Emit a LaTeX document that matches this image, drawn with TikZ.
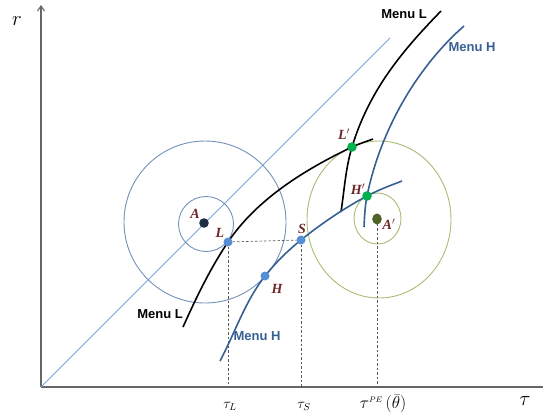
\documentclass[tikz,border=0pt]{standalone}
\usepackage{fontspec}
\setmainfont{Liberation Serif}
\newfontfamily\menufont{Liberation Sans}
\usetikzlibrary{arrows.meta}
\definecolor{menuh}{HTML}{376092}
\definecolor{pointlab}{HTML}{6E2626}
\definecolor{ptblue}{HTML}{558ED5}
\definecolor{ptgreen}{HTML}{00B050}
\definecolor{circA}{HTML}{7391BA}
\definecolor{circB}{HTML}{A8BC74}
\definecolor{diag}{HTML}{7FA7DC}
\definecolor{darkA}{HTML}{1F2D45}
\definecolor{oliveA}{HTML}{4F6228}
\begin{document}
\begin{tikzpicture}[x=1pt,y=-1pt,
	menu/.style={font=\menufont\bfseries\fontsize{13}{13}\selectfont},
	lab/.style={text=pointlab,font=\bfseries\itshape\fontsize{14}{14}\selectfont},
	guide/.style={dash pattern=on 2.5pt off 2pt,gray!70!black,line width=0.7pt},
	axe/.style={gray!80!black,line width=1.1pt}]
	\useasboundingbox (0,0) rectangle (543,416);
	% Points
	\coordinate (O) at (41,387);
	\coordinate (A) at (204,223);
	\coordinate (A2) at (377,219);
	\coordinate (L) at (228,242);
	\coordinate (S) at (301,240);
	\coordinate (H) at (265,276);
	\coordinate (L2) at (352,147);
	\coordinate (H2) at (367,196);
	
	% Axes
	\draw[axe,-{Straight Barb[length=5pt,width=7pt]}] (O) -- (41,5);
	\draw[axe] (O) -- (543,387);
	\draw[diag,line width=0.9pt] (O) -- (390,38);
	
	% Cercles
	\draw[circA,line width=0.9pt] (205,222) circle[radius=81];
	\draw[circA,line width=0.9pt] (206,224) circle[radius=27.5];
	\draw[circB,line width=0.9pt] (379,219.5) ellipse[x radius=72,y radius=78.5];
	\draw[circB,line width=0.9pt] (377.5,218.5) ellipse[x radius=23.5,y radius=25.5];
	
	% Pointilles
	\draw[guide] (L) -- (L |- O);
	\draw[guide] (S) -- (S |- O);
	\draw[guide] (L) -- (S);
	\draw[guide] (A2) -- (A2 |- O);
	
	% Menu L
	\draw[black,line width=1.6pt] (183,327) .. controls (196.1,297.9) and (210.1,268.6) .. (L)
		.. controls (257.1,198.8) and (305.2,169.4) .. (L2)
		.. controls (358.8,143.8) and (366,141.6) .. (373,139);
	\draw[black,line width=1.6pt] (341,212) .. controls (344.3,190.2) and (345.6,168.1) .. (L2)
		.. controls (369.4,89.4) and (403.2,49.9) .. (441,11);
	% Menu H
	\draw[menuh,line width=1.6pt] (220,361) .. controls (235,332.8) and (245.2,301) .. (H)
		.. controls (275.5,262.7) and (287.7,250.7) .. (S)
		.. controls (321.3,223.6) and (344.1,208.2) .. (H2)
		.. controls (378.4,189.9) and (389.9,185.7) .. (402,181);
	\draw[menuh,line width=1.6pt] (364,227) .. controls (364.5,217) and (365,205.8) .. (H2)
		.. controls (380,132.3) and (415.2,68.9) .. (464,26);
	
	% Pastilles
	\fill[darkA] (A) circle[radius=4.8];
	\fill[oliveA] (A2) ellipse[x radius=4.8,y radius=5.5];
	\foreach \p in {L,S,H} \fill[ptblue] (\p) circle[radius=4.5];
	\foreach \p in {L2,H2} \fill[ptgreen] (\p) circle[radius=4.8];
	
	% Etiquettes
	\node[lab] (labA) at (195,214) {A};
	\node[lab] (labL) at (220,233) {L};
	\node[lab] (labH) at (277,289) {H};
	\node[lab] (labS) at (302,229) {S};
	\node[lab] (labL2) at (344,134) {L$'$};
	\node[lab] (labH2) at (358,189) {H$'$};
	\node[lab] (labA2) at (389,224) {A$'$};
	\node[menu] (mL1) at (404,14) {Menu L};
	\node[menu] (mL2) at (160,314) {Menu L};
	\node[menu,text=menuh] (mH1) at (472,47) {Menu H};
	\node[menu,text=menuh] (mH2) at (257,336) {Menu H};
	\node[font=\fontsize{22}{22}\selectfont] (r) at (17,21) {$r$};
	\node[font=\fontsize{20}{20}\selectfont] (tau) at (525,401) {$\tau$};
	\node[font=\fontsize{14}{14}\selectfont] (tL) at (230,406) {$\tau_L$};
	\node[font=\fontsize{14}{14}\selectfont] (tS) at (304,406) {$\tau_S$};
	\node[font=\fontsize{16}{16}\selectfont,inner sep=1pt] (tPE) at (383,404) {$\tau^{\scriptscriptstyle PE}\,(\bar\theta)$};
\end{tikzpicture}
\end{document}
